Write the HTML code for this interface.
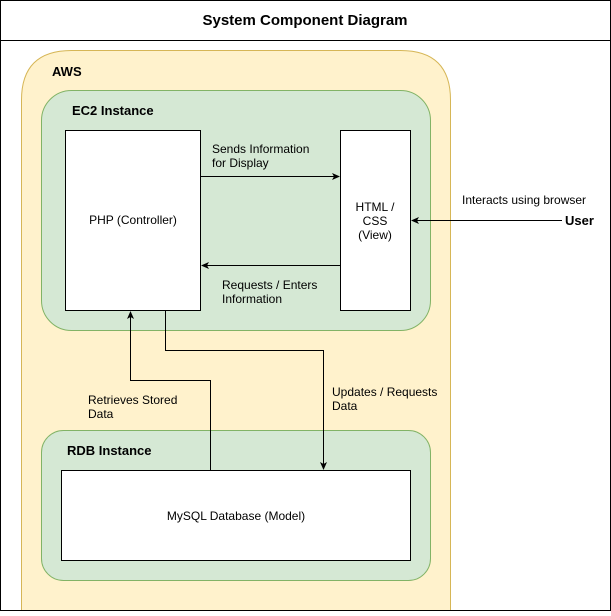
<!DOCTYPE html>
<html><head><style>
body{margin:0;background:#fff;}
svg text{font-family:"Liberation Sans",Arial,sans-serif;font-size:12px;fill:#000;}
</style></head><body>
<svg width="611" height="611" viewBox="0 0 611 611" xmlns="http://www.w3.org/2000/svg">
<defs><marker id="a" markerWidth="8" markerHeight="8" refX="7" refY="4" orient="auto" markerUnits="userSpaceOnUse"><path d="M0,0.5 L8,4 L0,7.5 L2,4 Z" fill="#000"/></marker></defs>
<rect x="0.5" y="0.5" width="610" height="610" fill="#fff" stroke="#000"/>
<line x1="0" y1="40.5" x2="611" y2="40.5" stroke="#000"/>
<text x="305" y="25" text-anchor="middle" font-weight="bold" style="font-size:15px">System Component Diagram</text>
<path d="M21.5,610 L21.5,100 Q21.5,50.5 71.5,50.5 L400.5,50.5 Q450.5,50.5 450.5,100 L450.5,610" fill="#fff2cc" stroke="#d6b656"/>
<text x="52" y="76" font-weight="bold" style="font-size:13px">AWS</text>
<rect x="41.5" y="90.5" width="389" height="240" rx="30" fill="#d5e8d4" stroke="#82b366"/>
<text x="72" y="115" font-weight="bold" style="font-size:13px">EC2 Instance</text>
<rect x="65.5" y="130.5" width="135" height="180" fill="#fff" stroke="#000"/>
<text x="133" y="224" text-anchor="middle">PHP (Controller)</text>
<rect x="340.5" y="130.5" width="70" height="180" fill="#fff" stroke="#000"/>
<text x="375" y="211" text-anchor="middle">HTML /</text>
<text x="375" y="225" text-anchor="middle">CSS</text>
<text x="375" y="239" text-anchor="middle">(View)</text>
<rect x="41.5" y="430.5" width="389" height="150" rx="22" fill="#d5e8d4" stroke="#82b366"/>
<text x="67" y="455" font-weight="bold" style="font-size:13px">RDB Instance</text>
<rect x="61.5" y="470.5" width="349" height="90" fill="#fff" stroke="#000"/>
<text x="236" y="520" text-anchor="middle">MySQL Database (Model)</text>
<line x1="200" y1="176.5" x2="339" y2="176.5" stroke="#000" marker-end="url(#a)"/>
<text x="212" y="153">Sends Information</text>
<text x="212" y="167">for Display</text>
<line x1="340" y1="265.5" x2="202" y2="265.5" stroke="#000" marker-end="url(#a)"/>
<text x="222" y="289">Requests / Enters</text>
<text x="222" y="303">Information</text>
<line x1="562" y1="220.5" x2="412" y2="220.5" stroke="#000" marker-end="url(#a)"/>
<text x="462" y="204">Interacts using browser</text>
<text x="565" y="225" font-weight="bold" style="font-size:13px">User</text>
<path d="M165.5,310 L165.5,350.5 L323.5,350.5 L323.5,469" fill="none" stroke="#000" marker-end="url(#a)"/>
<text x="332" y="396">Updates / Requests</text>
<text x="332" y="410">Data</text>
<path d="M210.5,470 L210.5,380.5 L130.5,380.5 L130.5,312" fill="none" stroke="#000" marker-end="url(#a)"/>
<text x="88" y="404">Retrieves Stored</text>
<text x="88" y="418">Data</text>
</svg>
</body></html>
